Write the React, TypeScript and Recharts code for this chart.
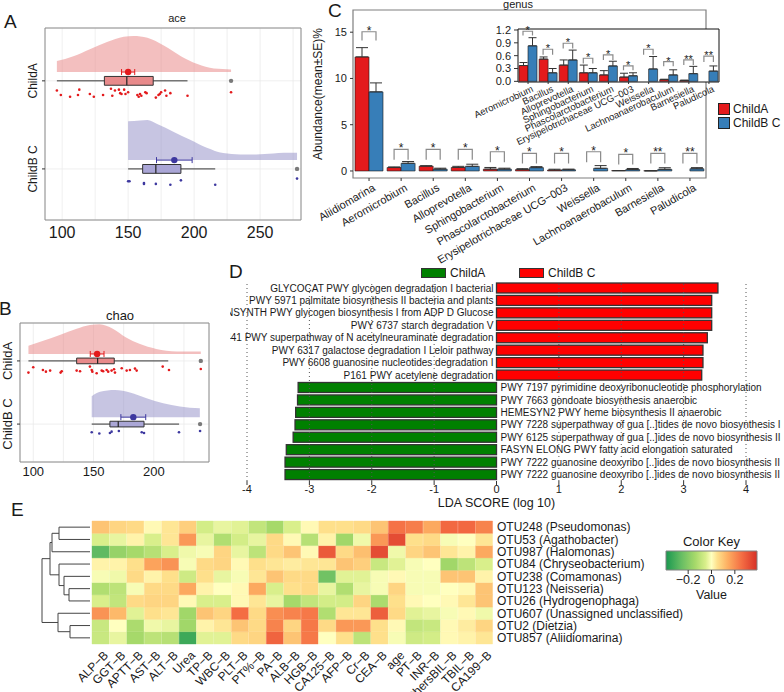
import React from "react";
import {
  ComposedChart,
  BarChart,
  LineChart,
  Area,
  Bar,
  Line,
  Scatter,
  Cell,
  XAxis,
  YAxis,
  CartesianGrid,
  ReferenceArea,
  ReferenceLine,
  ErrorBar,
  LabelList,
  Legend,
} from "recharts";

const FONT = "'Liberation Sans', Arial, Helvetica, sans-serif";
const INK = "#1a1a1a";

// ---------- A / B : raincloud plots ----------
const aceADensV = [96, 108.5, 121, 134, 146.7, 154, 164.6, 177, 190, 202.5, 215, 228];
const aceADensH = [0.125, 0.18, 0.26, 0.34, 0.4, 0.41, 0.39, 0.3, 0.18, 0.09, 0.04, 0.03];
const aceBDensV = [150, 159, 164.6, 172, 184.6, 197, 209.6, 222, 234.8, 247, 260, 268, 278];
const aceBDensH = [0.44, 0.45, 0.455, 0.41, 0.32, 0.23, 0.14, 0.08, 0.065, 0.065, 0.075, 0.083, 0.083];
const aceAPts = [96, 99, 106, 112, 113, 121, 124, 131, 137, 138, 140, 143, 144, 145, 147, 148, 150, 157, 158, 159, 160, 163, 164, 171, 173, 174, 175, 178, 179, 182, 195, 228];
const aceAJit = [0.11, 0.16, 0.18, 0.16, 0.1, 0.15, 0.18, 0.16, 0.09, 0.17, 0.11, 0.1, 0.14, 0.15, 0.1, 0.15, 0.13, 0.16, 0.18, 0.15, 0.17, 0.13, 0.14, 0.19, 0.16, 0.15, 0.13, 0.11, 0.17, 0.14, 0.17, 0.13];
const aceBPts = [150, 151, 162, 162, 171, 182, 190, 216, 278];
const aceBJit = [0.14, 0.14, 0.16, 0.17, 0.17, 0.18, 0.13, 0.18, 0.11];
const aceAStats = { lo: 96, q1: 132, med: 149, q3: 169, hi: 195, out: 228, mean: 150, se: 5 };
const aceBStats = { lo: 150, q1: 161, med: 171, q3: 190, hi: 216, out: 278, mean: 185, se: 13.5 };

const chaoADensV = [96, 108.3, 122, 136, 147, 155, 166, 177, 188, 202, 219, 239];
const chaoADensH = [0.13, 0.21, 0.3, 0.4, 0.46, 0.47, 0.4, 0.26, 0.16, 0.08, 0.04, 0.037];
const chaoBDensV = [148.5, 155.4, 167.8, 180.2, 194, 207.8, 221.6, 238.2];
const chaoBDensH = [0.33, 0.4, 0.43, 0.39, 0.3, 0.22, 0.17, 0.14];
const chaoAPts = [96, 100, 108, 110.5, 114, 122.7, 123.6, 136, 138.8, 147, 148.5, 149, 152.6, 156.8, 158, 160.9, 162.2, 165, 167, 167.8, 173.4, 177.5, 180.2, 184.4, 185.8, 207.4, 212.6, 239];
const chaoAJit = [0.185, 0.1, 0.143, 0.17, 0.153, 0.185, 0.164, 0.153, 0.164, 0.09, 0.143, 0.17, 0.196, 0.153, 0.164, 0.143, 0.17, 0.153, 0.132, 0.185, 0.116, 0.153, 0.143, 0.122, 0.153, 0.09, 0.143, 0.127];
const chaoBPts = [148.5, 154.8, 163.6, 165, 171, 190, 191.9, 220.9, 238.4];
const chaoBJit = [0.13, 0.15, 0.14, 0.12, 0.11, 0.13, 0.14, 0.13, 0.11];
const chaoAStats = { lo: 96, q1: 136, med: 153.4, q3: 167.2, hi: 212, out: 239, mean: 153, se: 5.7 };
const chaoBStats = { lo: 148.5, q1: 163.6, med: 170.5, q3: 191.9, hi: 221, out: 238.4, mean: 183, se: 10.3 };

const childA = { name: "ChildA", row: 2, dens: "#e77f7f", box: "#e88a8b", dot: "#e31a1c" };
const childB = { name: "ChildB C", row: 1, dens: "#8f8bc6", box: "#aaa6d6", dot: "#3d389f" };

// ---------- C : genus abundance ----------
const genus = ["Aliidiomarina", "Aeromicrobium", "Bacillus", "Alloprevotella", "Sphingobacterium", "Phascolarctobacterium", "Erysipelotrichaceae UCG−003", "Weissella", "Lachnoanaerobaculum", "Barnesiella", "Paludicola"];
const meanA = [12.33, 0.37, 0.52, 0.38, 0.2, 0.15, 0.1, 0, 0.04, 0.02, 0];
const seA = [1.0, 0.07, 0.05, 0.12, 0.18, 0.1, 0.09, 0, 0.01, 0.01, 0];
const meanB = [8.55, 0.83, 0.2, 0.5, 0.2, 0.36, 0.13, 0.29, 0.15, 0.18, 0.24];
const seB = [0.97, 0.19, 0.1, 0.23, 0.1, 0.11, 0.07, 0.29, 0.12, 0.17, 0.12];
const sigMark = ["*", "*", "*", "*", "*", "*", "*", "*", "*", "**", "**"];
const brLow = [14.1, 1.2, 1.2, 1.2, 0.95, 0.8, 0.8, 0.95, 0.7, 0.8, 0.8];
const brHigh = [15.05, 2.34, 2.34, 2.34, 2.08, 1.91, 1.91, 2.08, 1.8, 1.91, 1.91];
const insetBrLow = [1.07, 0.62, 0.77, 0.42, 0.5, 0.26, 0.62, 0.35, 0.38, 0.45];
const insetBrHigh = [1.17, 0.75, 0.89, 0.54, 0.62, 0.36, 0.75, 0.46, 0.5, 0.59];
const groupLegend = [
  { name: "ChildA", color: "#e41a1c" },
  { name: "ChildB C", color: "#377eb8" },
];

// ---------- D : LEfSe ----------
const pathways = [
  "GLYCOCAT PWY glycogen degradation I bacterial",
  "PWY 5971 palmitate biosynthesis II bacteria and plants",
  "GLYCOGENSYNTH PWY glycogen biosynthesis I from ADP D Glucose",
  "PWY 6737 starch degradation V",
  "P441 PWY superpathway of N acetylneuraminate degradation",
  "PWY 6317 galactose degradation I Leloir pathway",
  "PWY 6608 guanosine nucleotides degradation I",
  "P161 PWY acetylene degradation",
  "PWY 7197 pyrimidine deoxyribonucleotide phosphorylation",
  "PWY 7663 gondoate biosynthesis anaerobic",
  "HEMESYN2 PWY heme biosynthesis II anaerobic",
  "PWY 7228 superpathway of gua [..]tides de novo biosynthesis I",
  "PWY 6125 superpathway of gua [..]ides de novo biosynthesis II",
  "FASYN ELONG PWY fatty acid elongation saturated",
  "PWY 7222 guanosine deoxyribo [..]ides de novo biosynthesis II",
  "PWY 7222 guanosine deoxyribo [..]ides de novo biosynthesis II",
];
const ldaScore = [3.55, 3.45, 3.45, 3.45, 3.38, 3.31, 3.31, 3.29, -3.18, -3.19, -3.22, -3.23, -3.26, -3.37, -3.39, -3.39];
const ldaTicks = [-4, -3, -2, -1, 0, 1, 2, 3, 4];
const ldaGrid = [-4, -3, -2, -1, 1, 2, 3, 4];
const ldaLegend = [
  { name: "ChildA", color: "#008000" },
  { name: "ChildB C", color: "#ff0000" },
];

// ---------- E : heatmap ----------
const otuNames = ["OTU248 (Pseudomonas)", "OTU53 (Agathobacter)", "OTU987 (Halomonas)", "OTU84 (Chryseobacterium)", "OTU238 (Comamonas)", "OTU123 (Neisseria)", "OTU26 (Hydrogenophaga)", "OTU607 (Unassigned unclassified)", "OTU2 (Dietzia)", "OTU857 (Aliidiomarina)"];
const clinVars = ["ALP−B", "GGT−B", "APTT−B", "AST−B", "ALT−B", "Urea", "TP−B", "WBC−B", "PLT−B", "PT%−B", "PA−B", "ALB−B", "HGB−B", "CA125−B", "AFP−B", "Cr−B", "CEA−B", "age", "PT−B", "INR−B", "othersBIL−B", "TBIL−B", "CA199−B"];
const heat = [
  [0.1, 0.07, 0.06, 0.01, 0.04, 0.08, -0.06, -0.03, -0.04, -0.09, -0.14, -0.05, 0.01, 0.05, 0.05, 0.06, 0.1, 0.25, 0.23, 0.15, 0.27, 0.27, 0.22],
  [-0.05, -0.03, 0.02, -0.05, 0.04, 0.18, -0.03, -0.12, -0.06, -0.03, 0.06, 0.01, -0.11, 0.02, -0.15, -0.02, 0.18, 0.33, 0.05, 0.06, -0.01, 0.0, 0.04],
  [-0.27, -0.17, -0.14, -0.11, -0.05, -0.02, -0.01, 0.07, -0.03, -0.1, 0.06, 0.1, 0.01, 0.3, 0.06, 0.11, 0.33, -0.02, 0.07, 0.1, 0.04, 0.02, 0.15],
  [0.02, 0.02, 0.05, 0.16, 0.19, -0.01, 0.06, 0.07, 0.01, 0.05, 0.04, 0.03, 0.04, 0.04, 0.1, 0.08, -0.08, -0.04, -0.01, 0.0, -0.15, -0.1, -0.05],
  [-0.01, -0.02, 0.06, 0.02, 0.05, -0.07, 0.05, -0.03, -0.01, 0.04, 0.1, 0.06, 0.06, -0.24, -0.04, -0.04, -0.01, 0.01, -0.01, -0.01, 0.1, 0.1, 0.02],
  [-0.12, -0.1, -0.01, 0.06, 0.06, 0.15, 0.02, 0.0, 0.01, 0.15, -0.05, 0.05, 0.06, -0.03, -0.12, -0.03, -0.01, 0.07, -0.01, -0.01, 0.0, 0.01, 0.1],
  [-0.05, -0.09, 0.06, 0.07, 0.07, 0.01, -0.05, -0.05, 0.01, 0.04, -0.03, -0.14, -0.09, -0.06, -0.06, 0.07, -0.13, 0.05, 0.01, 0.0, 0.01, 0.04, 0.1],
  [0.19, 0.12, -0.04, 0.05, 0.04, -0.15, 0.1, 0.07, 0.26, 0.06, 0.2, 0.22, 0.24, -0.12, 0.04, 0.04, 0.29, 0.06, -0.04, -0.03, -0.01, 0.01, -0.02],
  [-0.08, 0.0, -0.13, -0.02, -0.03, -0.15, 0.02, 0.04, 0.1, 0.06, 0.22, 0.07, 0.24, 0.06, 0.18, 0.18, 0.05, 0.01, -0.09, -0.08, 0.01, 0.03, 0.07],
  [-0.08, -0.03, -0.14, -0.1, -0.11, -0.33, -0.04, -0.04, 0.06, 0.07, 0.28, 0.1, 0.24, 0.0, 0.05, -0.1, 0.05, -0.01, -0.07, -0.06, 0.01, 0.02, 0.04],
];
// hclust merges (negative = leaf row, positive = earlier merge), with heights
const dendroMerges: [number, number, number][] = [
  [-1, -2, 31], [1, -3, 38], [-6, -7, 21], [-5, 3, 26], [-4, 4, 31],
  [2, 5, 40], [-9, -10, 20], [-8, 7, 32], [6, 8, 48],
];
const heatStops: [number, string][] = [
  [-0.39, "#1a9850"], [-0.26, "#66bd63"], [-0.14, "#a6d96a"], [-0.05, "#d9ef8b"], [0, "#ffffbf"],
  [0.05, "#fee08b"], [0.14, "#fdae61"], [0.26, "#f46d43"], [0.39, "#d73027"],
];
const keyTicks = [-0.2, 0, 0.2];

function rgb(h: string) {
  return [1, 3, 5].map((i) => parseInt(h.slice(i, i + 2), 16));
}
function heatColor(v: number) {
  if (v <= heatStops[0][0]) return heatStops[0][1];
  for (let i = 1; i < heatStops.length; i++) {
    const [v1, c1] = heatStops[i];
    const [v0, c0] = heatStops[i - 1];
    if (v <= v1) {
      const t = (v - v0) / (v1 - v0);
      const a = rgb(c0), b = rgb(c1);
      return `rgb(${a.map((x, k) => Math.round(x + (b[k] - x) * t)).join(",")})`;
    }
  }
  return heatStops[heatStops.length - 1][1];
}

const dendroSegs = (() => {
  const nodes: { h: number; y: number }[] = [];
  const pos = (id: number) => (id < 0 ? { h: 0, y: -id - 1 } : nodes[id - 1]);
  return dendroMerges.map(([a, b, hh]) => {
    const L = pos(a), R = pos(b);
    nodes.push({ h: hh, y: (L.y + R.y) / 2 });
    return [{ h: L.h, y: L.y }, { h: hh, y: L.y }, { h: hh, y: R.y }, { h: R.h, y: R.y }];
  });
})();

// ---------- small helpers ----------
const Pos = ({ x, y, children }: any) => (
  <div style={{ position: "absolute", left: x, top: y }}>{children}</div>
);
const Txt = ({ x, y, fs, children, mid }: any) => (
  <div style={{ position: "absolute", left: x, top: y, fontSize: fs, lineHeight: `${fs}px`, whiteSpace: "nowrap", transform: mid ? "translateX(-50%)" : undefined }}>
    {children}
  </div>
);

const RotTick = (p: any) => {
  const { x, y, payload, angle, fs, dx = 0, dy = 0 } = p;
  return (
    <g transform={`translate(${x + dx},${y + dy}) rotate(${angle})`}>
      <text x={0} y={0} dy="0.72em" textAnchor="end" fontSize={fs} fill={INK}>{payload.value}</text>
    </g>
  );
};

const HeatRowTick = (p: any) => {
  const { x, y, payload } = p;
  return (
    <text x={x} y={y} dy="0.36em" textAnchor="start" fontSize={12} fill={INK}>
      {otuNames[otuNames.length - 1 - Math.floor(payload.value)]}
    </text>
  );
};

const RowTick = (p: any) => {
  const { x, y, payload, fs, shift } = p;
  const name = payload.value === childA.row ? childA.name : childB.name;
  const bx = x - shift;
  return (
    <text x={bx} y={y} transform={`rotate(-90 ${bx} ${y})`} textAnchor="middle" fontSize={fs} fill={INK}>{name}</text>
  );
};

function Raincloud(props: any) {
  const { w, h, margin, xDomain, yDomain, xTicks, clouds, tickFont, rowFont, yAxisW, xAxisH, tickGap, half, lift, shift } = props;
  const densRows = clouds
    .flatMap((c: any, ci: number) => c.densV.map((v: number, i: number) => ({ v, ["d" + ci]: [c.g.row + lift, c.g.row + lift + c.densH[i]] })))
    .sort((a: any, b: any) => a.v - b.v);
  return (
    <ComposedChart width={w} height={h} data={densRows} margin={margin}>
      <CartesianGrid stroke="#ebebeb" strokeWidth={0.8} />
      <XAxis type="number" dataKey="v" domain={xDomain} ticks={xTicks} interval={0} allowDataOverflow axisLine={false} tickLine={false} tickSize={tickGap} tickMargin={2} height={xAxisH} tick={{ fontSize: tickFont, fill: INK }} tickFormatter={(t: number) => (t % 50 === 0 ? String(t) : "")} />
      <YAxis type="number" dataKey="y" domain={yDomain} ticks={[1, 2]} interval={0} allowDataOverflow width={yAxisW} axisLine={false} tickSize={3} tickMargin={2} tickLine={{ stroke: "#333" }} tick={<RowTick fs={rowFont} shift={shift} />} />
      {clouds.map((c: any, ci: number) => (
        <Area key={"d" + ci} dataKey={"d" + ci} type="monotone" stroke="none" fill={c.g.dens} fillOpacity={0.5} connectNulls dot={false} activeDot={false} isAnimationActive={false} />
      ))}
      {clouds.map((c: any, ci: number) => (
        <ReferenceLine key={"wl" + ci} segment={[{ x: c.s.lo, y: c.g.row }, { x: c.s.q1, y: c.g.row }]} stroke="#333" strokeWidth={1} />
      ))}
      {clouds.map((c: any, ci: number) => (
        <ReferenceLine key={"wh" + ci} segment={[{ x: c.s.q3, y: c.g.row }, { x: c.s.hi, y: c.g.row }]} stroke="#333" strokeWidth={1} />
      ))}
      {clouds.map((c: any, ci: number) => (
        <ReferenceArea key={"bx" + ci} x1={c.s.q1} x2={c.s.q3} y1={c.g.row - half} y2={c.g.row + half} fill={c.g.box} fillOpacity={1} stroke="#333" strokeWidth={1} />
      ))}
      {clouds.map((c: any, ci: number) => (
        <ReferenceLine key={"md" + ci} segment={[{ x: c.s.med, y: c.g.row - half }, { x: c.s.med, y: c.g.row + half }]} stroke="#222" strokeWidth={1.2} />
      ))}
      {clouds.map((c: any, ci: number) => (
        <Scatter key={"p" + ci} data={c.pts.map((v: number, i: number) => ({ v, y: c.g.row - c.jit[i] }))} isAnimationActive={false}
          shape={(p: any) => <circle cx={p.cx} cy={p.cy} r={1.3} fill={c.g.dot} />} />
      ))}
      {clouds.map((c: any, ci: number) => (
        <Scatter key={"o" + ci} data={[{ v: c.s.out, y: c.g.row }]} isAnimationActive={false}
          shape={(p: any) => <circle cx={p.cx} cy={p.cy} r={2.2} fill="#7a7a7a" />} />
      ))}
      {clouds.map((c: any, ci: number) => (
        <Scatter key={"m" + ci} data={[{ v: c.s.mean, y: c.g.row + lift, se: c.s.se }]} isAnimationActive={false}
          shape={(p: any) => <circle cx={p.cx} cy={p.cy} r={3.2} fill={c.g.dot} />}>
          <ErrorBar dataKey="se" direction="x" width={3} stroke={c.g.dot} strokeWidth={1} />
        </Scatter>
      ))}
      <ReferenceArea x1={xDomain[0]} x2={xDomain[1]} y1={yDomain[0]} y2={yDomain[1]} fill="none" stroke="#8c8c8c" strokeWidth={1} ifOverflow="visible" />
    </ComposedChart>
  );
}

const BracketShape = (p: any) => {
  const { x, y, width, height } = p;
  if (x == null || y == null) return null;
  return <path d={`M${x},${y + height}L${x},${y}L${x + width},${y}L${x + width},${y + height}`} fill="none" stroke="#8a8a8a" strokeWidth={1.2} />;
};

const BoxLegend = ({ items }: any) => (
  <div style={{ fontFamily: FONT, fontSize: 12, color: INK }}>
    {items.map((it: any) => (
      <div key={it.name} style={{ display: "flex", alignItems: "center", height: 14 }}>
        <span style={{ width: 10, height: 10, background: it.color, border: "1px solid #222", marginRight: 3, display: "inline-block" }} />
        {it.name}
      </div>
    ))}
  </div>
);

const LdaLegend = () => (
  <div style={{ display: "flex", fontFamily: FONT, fontSize: 12, color: INK }}>
    {ldaLegend.map((it) => (
      <div key={it.name} style={{ display: "flex", alignItems: "center", width: 98, height: 11 }}>
        <span style={{ width: 23, height: 8, background: it.color, border: "1px solid #333", marginRight: 4, display: "inline-block" }} />
        {it.name}
      </div>
    ))}
  </div>
);

const LdaShape = (p: any) => {
  const { x, y, width, height, payload } = p;
  if (x == null) return null;
  const v = payload.lda;
  const left = width < 0 ? x + width : x;
  const w = Math.abs(width);
  const zero = v >= 0 ? left : left + w;
  return (
    <g>
      <rect x={left} y={y} width={w} height={height} fill={v >= 0 ? "#ff0000" : "#008000"} stroke="#333" strokeWidth={1.3} />
      <text x={v >= 0 ? zero - 3 : zero + 4} y={y + height / 2} dy="0.36em" textAnchor={v >= 0 ? "end" : "start"} fontSize={10} fill={INK}>
        {payload.name}
      </text>
    </g>
  );
};

export default function App() {
  const mainRows = genus.map((g, i) => ({
    name: g, a: meanA[i], b: meanB[i], ea: [0, seA[i]], eb: [0, seB[i]], br: [brLow[i], brHigh[i]], sig: sigMark[i],
  }));
  const insetRows = genus.slice(1).map((g, j) => {
    const i = j + 1;
    return { name: g, a: meanA[i], b: meanB[i], ea: [0, seA[i]], eb: [0, seB[i]], br: [insetBrLow[j], insetBrHigh[j]], sig: sigMark[i] };
  });
  const ldaRows = pathways.map((p, i) => ({ name: p, lda: ldaScore[i] }));
  const heatRows = clinVars.map((c) => {
    const o: any = { col: c };
    otuNames.forEach((_, ri) => (o["r" + ri] = 1));
    return o;
  });
  const keyMin = heatStops[0][0];
  const keyMax = heatStops[heatStops.length - 1][0];
  const keyRows = [{ v: keyMin, y: 0 }, { v: keyMax, y: 1 }];

  return (
    <div style={{ position: "absolute", left: 0, top: 0, width: 784, height: 692, background: "#fff", fontFamily: FONT, color: INK, overflow: "hidden" }}>
      {/* A */}
      <Pos x={0} y={0}>
        <Raincloud w={310} h={250} margin={{ top: 28, right: 9, bottom: 0, left: 20 }} yAxisW={25} xAxisH={30}
          xDomain={[87, 281]} yDomain={[0.42, 2.6]} xTicks={[100, 125, 150, 175, 200, 225, 250, 275]}
          tickFont={16} rowFont={12} tickGap={5} half={0.05} lift={0.1} shift={3}
          clouds={[
            { g: childA, densV: aceADensV, densH: aceADensH, pts: aceAPts, jit: aceAJit, s: aceAStats },
            { g: childB, densV: aceBDensV, densH: aceBDensH, pts: aceBPts, jit: aceBJit, s: aceBStats },
          ]} />
      </Pos>
      <Txt x={4} y={12} fs={19}>A</Txt>
      <Txt x={177} y={12.5} fs={11} mid>ace</Txt>

      {/* B */}
      <Pos x={0} y={300}>
        <Raincloud w={215} h={185} margin={{ top: 23, right: 6, bottom: 0, left: 2 }} yAxisW={18} xAxisH={23}
          xDomain={[89, 245.8]} yDomain={[0.4, 2.6]} xTicks={[100, 125, 150, 175, 200, 225]}
          tickFont={13} rowFont={13} tickGap={3} half={0.045} lift={0.11} shift={3}
          clouds={[
            { g: childA, densV: chaoADensV, densH: chaoADensH, pts: chaoAPts, jit: chaoAJit, s: chaoAStats },
            { g: childB, densV: chaoBDensV, densH: chaoBDensH, pts: chaoBPts, jit: chaoBJit, s: chaoBStats },
          ]} />
      </Pos>
      <Txt x={-1} y={298.5} fs={19}>B</Txt>
      <Txt x={120} y={309} fs={13} mid>chao</Txt>

      {/* C main */}
      <Pos x={300} y={0}>
        <ComposedChart width={484} height={270} data={mainRows} margin={{ top: 10, right: 78, bottom: 0, left: 0 }} barCategoryGap={2} barGap={0}>
          <XAxis dataKey="name" interval={0} height={92} axisLine={false} tickSize={3} tickMargin={2} tickLine={{ stroke: "#333" }}
            tick={<RotTick angle={-30} fs={11} dx={3} dy={0} />} />
          <XAxis xAxisId="br" dataKey="name" hide />
          <YAxis domain={[-0.76, 17.4]} ticks={[0, 5, 10, 15]} interval={0} width={53} axisLine={false} tickSize={3} tickMargin={3}
            tickLine={{ stroke: "#333" }} tick={{ fontSize: 11, fill: INK }}
            label={{ value: "Abundance(mean±SE)%", angle: -90, position: "insideLeft", offset: 18, style: { textAnchor: "middle", fontSize: 12, fill: INK } }} />
          <Bar dataKey="a" fill="#e41a1c" stroke="#1a1a1a" strokeWidth={0.6} isAnimationActive={false}>
            <ErrorBar dataKey="ea" width={6} stroke="#333" strokeWidth={1} />
          </Bar>
          <Bar dataKey="b" fill="#377eb8" stroke="#1a1a1a" strokeWidth={0.6} isAnimationActive={false}>
            <ErrorBar dataKey="eb" width={6} stroke="#333" strokeWidth={1} />
          </Bar>
          <Bar xAxisId="br" dataKey="br" barSize={14} shape={BracketShape} legendType="none" isAnimationActive={false}>
            <LabelList dataKey="sig" position="top" offset={-3} style={{ fontSize: 12, fill: INK }} />
          </Bar>
          <ReferenceArea x1={genus[0]} x2={genus[genus.length - 1]} y1={-0.76} y2={17.4} fill="none" stroke="#7f7f7f" strokeWidth={1.2} ifOverflow="visible" />
          <Legend layout="vertical" align="center" verticalAlign="middle" wrapperStyle={{ left: 418, top: 102, width: 66 }}
            content={() => <BoxLegend items={groupLegend} />} />
        </ComposedChart>
      </Pos>
      <Txt x={328} y={0.5} fs={19}>C</Txt>
      <Txt x={518} y={-1.3} fs={11} mid>genus</Txt>

      {/* C inset */}
      <Pos x={470} y={20}>
        <ComposedChart width={260} height={150} data={insetRows} margin={{ top: 9, right: 11, bottom: 0, left: 8 }} barCategoryGap={1} barGap={0}>
          <CartesianGrid fill="#fff" horizontal={false} vertical={false} stroke="none" />
          <XAxis dataKey="name" interval={0} height={88} axisLine={false} tickSize={2} tickMargin={1} tickLine={{ stroke: "#333" }}
            tick={<RotTick angle={-25} fs={9.5} dx={3} dy={0} />} />
          <XAxis xAxisId="br" dataKey="name" hide />
          <YAxis domain={[-0.015, 1.223]} ticks={[0, 0.3, 0.6, 0.9, 1.2]} interval={0} width={40} axisLine={false} tickSize={4} tickMargin={3}
            tickLine={{ stroke: "#333" }} tick={{ fontSize: 11, fill: INK }} tickFormatter={(v: number) => v.toFixed(1)} />
          <Bar dataKey="a" fill="#e41a1c" stroke="#1a1a1a" strokeWidth={0.6} isAnimationActive={false}>
            <ErrorBar dataKey="ea" width={4} stroke="#333" strokeWidth={1} />
          </Bar>
          <Bar dataKey="b" fill="#377eb8" stroke="#1a1a1a" strokeWidth={0.6} isAnimationActive={false}>
            <ErrorBar dataKey="eb" width={4} stroke="#333" strokeWidth={1} />
          </Bar>
          <Bar xAxisId="br" dataKey="br" barSize={9.5} shape={BracketShape} legendType="none" isAnimationActive={false}>
            <LabelList dataKey="sig" position="top" offset={-3} style={{ fontSize: 11, fill: INK }} />
          </Bar>
          <ReferenceArea x1={genus[1]} x2={genus[genus.length - 1]} y1={-0.015} y2={1.223} fill="none" stroke="#111" strokeWidth={1} ifOverflow="visible" />
        </ComposedChart>
      </Pos>

      {/* D */}
      <Pos x={230} y={260}>
        <BarChart layout="vertical" width={554} height={250} data={ldaRows} margin={{ top: 22, right: 38, bottom: 0, left: 17 }} barCategoryGap={1}>
          <XAxis type="number" domain={[-4, 4]} ticks={ldaTicks} interval={0} axisLine={false} tickSize={4} tickMargin={0}
            tickLine={{ stroke: "#333" }} height={29} tick={{ fontSize: 11, fill: INK }}
            label={{ value: "LDA SCORE (log 10)", position: "insideBottom", offset: 3, style: { fontSize: 12.5, fill: INK } }} />
          <YAxis type="category" dataKey="name" hide />
          <Bar dataKey="lda" shape={LdaShape} isAnimationActive={false} />
          {ldaGrid.map((v) => (
            <ReferenceLine key={v} x={v} stroke="#555" strokeWidth={1} strokeDasharray="1 3" />
          ))}
          <Legend layout="horizontal" align="center" verticalAlign="middle" wrapperStyle={{ left: 191, top: 7, width: 200 }}
            content={() => <LdaLegend />} />
        </BarChart>
      </Pos>
      <Txt x={229} y={261.5} fs={19}>D</Txt>

      {/* E heatmap */}
      <Pos x={40} y={505}>
        <BarChart width={744} height={187} data={heatRows} margin={{ top: 16, right: 91, bottom: 0, left: 52 }} barCategoryGap={0}>
          <XAxis dataKey="col" interval={0} height={48} axisLine={false} tickLine={false} tickSize={0} tickMargin={0}
            tick={<RotTick angle={-45} fs={12} dx={2} dy={6} />} />
          <YAxis orientation="right" type="number" domain={[0, 10]} ticks={otuNames.map((_, i) => 9.5 - i)} interval={0} width={200}
            axisLine={false} tickLine={false} tickSize={2} tickMargin={2} tick={<HeatRowTick />} />
          {otuNames.map((_, k) => {
            const ri = otuNames.length - 1 - k;
            return (
              <Bar key={ri} dataKey={"r" + ri} stackId="h" isAnimationActive={false}>
                {clinVars.map((c, ci) => (
                  <Cell key={c} fill={heatColor(heat[ri][ci])} stroke={heatColor(heat[ri][ci])} strokeWidth={0.4} />
                ))}
              </Bar>
            );
          })}
        </BarChart>
      </Pos>

      {/* E dendrogram */}
      <Pos x={30} y={515}>
        <LineChart width={65} height={135} margin={{ top: 6, right: 5, bottom: 6, left: 10 }}>
          <XAxis type="number" dataKey="h" domain={[0, 50]} reversed hide />
          <YAxis type="number" domain={[-0.5, 9.5]} reversed hide />
          {dendroSegs.map((seg, i) => (
            <Line key={i} data={seg} dataKey="y" type="linear" stroke="#444" strokeWidth={1} dot={false} activeDot={false} isAnimationActive={false} />
          ))}
        </LineChart>
      </Pos>
      <Txt x={11} y={499.5} fs={19}>E</Txt>

      {/* E color key */}
      <Pos x={650} y={527}>
        <ComposedChart width={125} height={75} data={keyRows} margin={{ top: 24, right: 18, bottom: 0, left: 16 }}>
          <defs>
            <linearGradient id="keyGrad" x1="0" y1="0" x2="1" y2="0">
              {heatStops.map(([v, c]) => (
                <stop key={v} offset={(v - keyMin) / (keyMax - keyMin)} stopColor={c} />
              ))}
            </linearGradient>
          </defs>
          <XAxis type="number" dataKey="v" domain={[keyMin, keyMax]} ticks={keyTicks} interval={0} height={32} axisLine={false}
            tickSize={4} tickMargin={1} tickLine={{ stroke: "#333" }} tick={{ fontSize: 12.5, fill: INK }}
            tickFormatter={(v: number) => (v === 0 ? "0" : v < 0 ? "−" + Math.abs(v).toFixed(1) : v.toFixed(1))}
            label={{ value: "Value", position: "insideBottom", offset: 3, style: { fontSize: 12.5, fill: INK } }} />
          <YAxis type="number" dataKey="y" domain={[0, 1]} allowDataOverflow hide />
          <Scatter data={keyRows} isAnimationActive={false} shape={() => null} />
          <ReferenceArea x1={keyMin} x2={keyMax} y1={0} y2={1} fill="url(#keyGrad)" fillOpacity={1} stroke="#808080" strokeWidth={1}
            label={{ value: "Color Key", position: "top", offset: 5, style: { fontSize: 13, fill: INK } }} />
        </ComposedChart>
      </Pos>
    </div>
  );
}
